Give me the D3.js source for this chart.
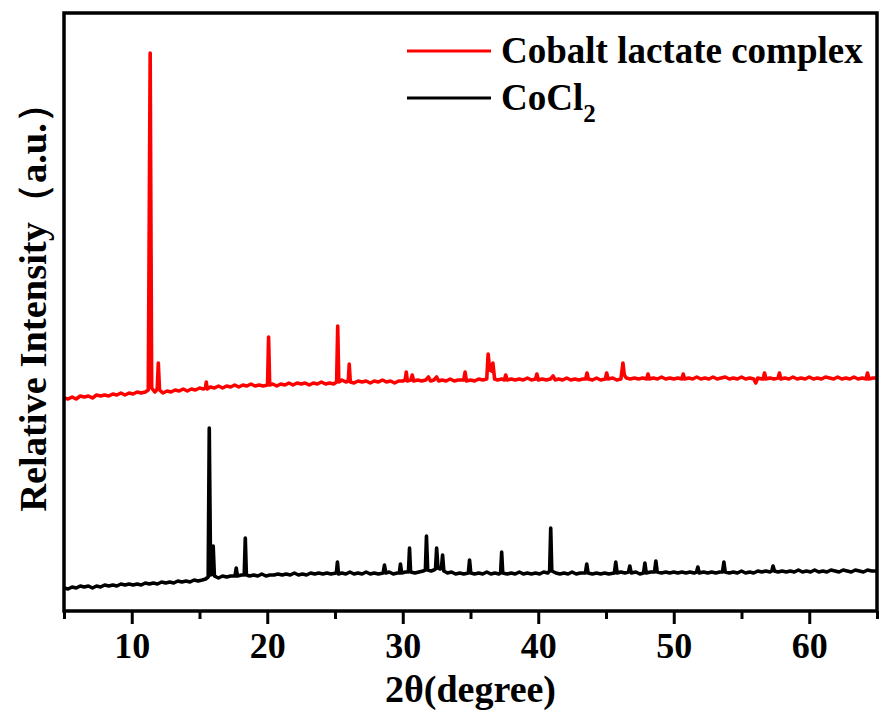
<!DOCTYPE html>
<html>
<head>
<meta charset="utf-8">
<script src="https://cdn.jsdelivr.net/npm/d3@7"></script>
<style>
  html, body { margin: 0; padding: 0; background: #fff; }
  svg { display: block; }
  text { font-family: "Liberation Serif", "Times New Roman", serif; font-weight: bold; fill: #000; }
</style>
</head>
<body>
<svg id="chart" width="881" height="718"></svg>
<script>
// XRD patterns: [2θ (degree), relative intensity (a.u.)], red trace stacked above black
const cobaltLactate = [
  [5.0,213],[5.3,212],[5.6,214],[5.9,212],[6.2,215],[6.5,214],[6.8,215],[7.1,213],[7.4,216],[7.7,215],
  [8.0,216],[8.3,215],[8.6,217],[8.9,216],[9.2,218],[9.5,216],[9.8,218],[10.1,217],[10.4,219],[10.7,218],
  [11.0,219],[11.22,221],[11.36,558],[11.47,223],[11.7,219],[11.88,222],[11.96,248],[12.05,221],[12.3,218],[12.6,220],
  [12.9,219],[13.2,221],[13.5,220],[13.8,222],[14.1,220],[14.4,222],[14.7,221],[15.0,223],[15.3,222],[15.44,223],
  [15.5,229],[15.57,222],[15.8,224],[16.1,223],[16.4,225],[16.7,223],[17.0,225],[17.3,224],[17.6,226],[17.9,224],
  [18.2,226],[18.5,225],[18.8,227],[19.1,225],[19.4,226],[19.7,225],[20.02,226],[20.1,274],[20.18,226],[20.4,227],
  [20.7,225],[21.0,227],[21.3,226],[21.6,228],[21.9,226],[22.2,228],[22.5,227],[22.8,228],[23.1,226],[23.4,228],
  [23.7,227],[24.0,229],[24.3,227],[24.6,228],[24.9,227],[25.12,229],[25.2,285],[25.28,229],[25.5,231],[25.8,229],
  [25.98,230],[26.05,247],[26.13,229],[26.4,228],[26.7,230],[27.0,229],[27.3,230],[27.6,228],[27.9,230],[28.2,229],
  [28.5,231],[28.8,229],[29.1,230],[29.4,228],[29.7,230],[30.0,230],[30.18,231],[30.26,239],[30.34,230],[30.6,231],
  [30.7,236],[30.8,230],[31.1,231],[31.4,230],[31.7,231],[31.9,234],[32.05,230],[32.3,231],[32.5,234],[32.65,230],
  [32.9,231],[33.2,230],[33.5,232],[33.8,230],[34.1,231],[34.5,231],[34.6,239],[34.7,230],[35.0,231],[35.3,230],
  [35.6,232],[35.9,231],[36.2,232],[36.3,257],[36.42,241],[36.55,240],[36.65,248],[36.78,232],[37.0,231],[37.3,232],
  [37.5,231],[37.6,236],[37.7,231],[38.0,232],[38.3,231],[38.6,232],[38.9,231],[39.2,233],[39.5,231],[39.8,232],
  [39.9,237],[40.0,231],[40.3,232],[40.6,231],[40.9,232],[41.1,235],[41.25,231],[41.5,232],[41.8,231],[42.1,233],
  [42.4,231],[42.7,232],[43.0,231],[43.3,232],[43.5,232],[43.6,238],[43.7,232],[44.0,231],[44.3,233],[44.6,231],
  [44.95,232],[45.05,238],[45.15,232],[45.5,233],[45.8,231],[46.1,232],[46.25,248],[46.35,236],[46.5,233],[46.8,232],
  [47.1,233],[47.4,232],[47.7,233],[48.0,232],[48.1,237],[48.2,232],[48.5,233],[48.8,232],[49.1,234],[49.4,232],
  [49.7,233],[50.0,232],[50.3,233],[50.6,232],[50.7,237],[50.8,232],[51.1,233],[51.4,232],[51.7,234],[52.0,232],
  [52.3,233],[52.6,232],[52.9,234],[53.2,232],[53.5,233],[53.8,234],[54.1,232],[54.4,233],[54.7,232],[55.0,234],
  [55.3,232],[55.6,233],[55.9,232],[56.05,228],[56.2,233],[56.5,232],[56.6,232],[56.7,238],[56.8,232],[57.1,233],
  [57.4,232],[57.7,233],[57.8,238],[57.9,232],[58.2,233],[58.5,232],[58.8,234],[59.1,232],[59.4,233],[59.7,232],
  [60.0,234],[60.3,232],[60.6,233],[60.9,232],[61.2,234],[61.5,233],[61.8,232],[62.1,234],[62.4,232],[62.7,233],
  [63.0,232],[63.3,234],[63.6,232],[63.9,233],[64.2,232],[64.3,238],[64.4,232],[64.7,233],[65.0,233]
];

const cobaltChloride = [
  [5.0,23],[5.3,22],[5.6,24],[5.9,23],[6.2,25],[6.5,24],[6.8,25],[7.1,23],[7.4,25],[7.7,24],
  [8.0,26],[8.3,25],[8.6,26],[8.9,25],[9.2,27],[9.5,26],[9.8,27],[10.1,26],[10.4,27],[10.7,26],
  [11.0,28],[11.3,27],[11.6,28],[11.9,27],[12.2,29],[12.5,28],[12.8,29],[13.1,28],[13.4,30],[13.7,29],
  [14.0,30],[14.3,29],[14.6,31],[14.9,30],[15.2,31],[15.45,32],[15.64,34],[15.72,183],[15.82,36],[15.94,37],
  [16.01,65],[16.1,35],[16.4,33],[16.7,35],[17.0,34],[17.3,35],[17.62,35],[17.71,43],[17.8,35],[18.1,36],
  [18.3,36],[18.38,73],[18.46,36],[18.7,35],[19.0,36],[19.3,35],[19.6,37],[19.9,35],[20.2,36],[20.5,36],
  [20.8,37],[21.1,36],[21.4,37],[21.7,36],[22.0,38],[22.3,36],[22.6,37],[22.9,36],[23.2,38],[23.5,37],
  [23.8,38],[24.1,37],[24.4,38],[24.7,37],[25.1,38],[25.18,49],[25.26,37],[25.5,38],[25.8,37],[26.1,39],
  [26.4,37],[26.7,38],[27.0,37],[27.3,39],[27.6,37],[27.9,38],[28.2,37],[28.55,38],[28.65,46],[28.75,38],
  [29.0,39],[29.3,37],[29.6,38],[29.75,38],[29.83,47],[29.92,38],[30.2,39],[30.42,39],[30.5,63],[30.58,39],
  [30.9,38],[31.2,39],[31.5,40],[31.67,41],[31.75,75],[31.84,41],[32.1,40],[32.3,41],[32.42,42],[32.5,63],
  [32.6,43],[32.78,42],[32.86,44],[32.94,56],[33.03,40],[33.3,38],[33.6,39],[33.9,37],[34.2,38],[34.5,37],
  [34.84,38],[34.93,51],[35.02,38],[35.3,37],[35.6,38],[35.9,37],[36.2,39],[36.5,37],[36.8,38],[37.1,37],
  [37.22,38],[37.3,59],[37.38,38],[37.7,37],[38.0,38],[38.3,37],[38.6,39],[38.9,37],[39.2,38],[39.5,37],
  [39.8,38],[40.1,37],[40.4,39],[40.7,38],[40.84,40],[40.92,83],[41.0,40],[41.3,38],[41.6,37],[41.9,38],
  [42.2,37],[42.5,39],[42.8,37],[43.1,38],[43.48,38],[43.58,47],[43.68,38],[44.0,37],[44.3,38],[44.6,37],
  [44.9,38],[45.2,37],[45.62,38],[45.72,49],[45.82,38],[46.1,39],[46.4,38],[46.66,39],[46.76,45],[46.86,38],
  [47.2,39],[47.5,37],[47.77,38],[47.87,48],[47.97,38],[48.3,39],[48.58,39],[48.68,50],[48.78,39],[49.1,38],
  [49.4,39],[49.7,38],[50.0,39],[50.3,38],[50.6,39],[50.9,38],[51.2,39],[51.5,38],[51.68,39],[51.78,44],
  [51.88,38],[52.2,39],[52.5,38],[52.8,39],[53.1,38],[53.4,39],[53.6,39],[53.7,49],[53.8,39],[54.1,38],
  [54.4,39],[54.7,38],[55.0,40],[55.3,38],[55.6,39],[55.9,38],[56.2,40],[56.5,39],[56.8,40],[57.1,39],
  [57.23,40],[57.33,45],[57.43,40],[57.7,39],[58.0,40],[58.3,39],[58.6,40],[58.9,39],[59.2,41],[59.5,39],
  [59.8,40],[60.1,39],[60.4,41],[60.7,39],[61.0,40],[61.3,39],[61.6,41],[61.9,40],[62.2,39],[62.5,41],
  [62.8,40],[63.1,39],[63.4,41],[63.7,40],[64.0,39],[64.3,41],[64.6,40],[65.0,40]
];

const majorTicks = [10, 20, 30, 40, 50, 60];
const minorTicks = [5, 15, 25, 35, 45, 55, 65];
const seriesNames = ["Cobalt lactate complex", "CoCl"];
const seriesColors = ["#ff0000", "#000000"];

const svg = d3.select("#chart");
const margin = { left: 64, top: 13, right: 4, bottom: 107 };
const W = 881, H = 718;
const plotW = W - margin.left - margin.right;
const plotH = H - margin.top - margin.bottom;

const x = d3.scaleLinear().domain([5, 65]).range([margin.left, margin.left + plotW]);
const y = d3.scaleLinear().domain([0, 598]).range([margin.top + plotH, margin.top]);

const line = d3.line()
  .x(d => x(d[0]))
  .y(d => y(d[1]));

// traces
svg.append("path")
  .datum(cobaltChloride)
  .attr("d", line)
  .attr("fill", "none")
  .attr("stroke", seriesColors[1])
  .attr("stroke-width", 3.6)
  .attr("stroke-linejoin", "round");

svg.append("path")
  .datum(cobaltLactate)
  .attr("d", line)
  .attr("fill", "none")
  .attr("stroke", seriesColors[0])
  .attr("stroke-width", 3.6)
  .attr("stroke-linejoin", "round");

// x axis: major ticks with labels, minor ticks without
const bottomY = margin.top + plotH;
const majorAxis = d3.axisBottom(x).tickValues(majorTicks).tickSize(13).tickPadding(8).tickFormat(d3.format("d"));
const minorAxis = d3.axisBottom(x).tickValues(minorTicks).tickSize(8).tickFormat("");

const gMajor = svg.append("g").attr("transform", `translate(0,${bottomY})`).call(majorAxis);
const gMinor = svg.append("g").attr("transform", `translate(0,${bottomY})`).call(minorAxis);
[gMajor, gMinor].forEach(g => {
  g.select(".domain").remove();
  g.selectAll(".tick line").attr("stroke", "#000").attr("stroke-width", 3);
});
gMajor.selectAll(".tick text")
  .attr("font-size", 36)
  .attr("font-family", "Liberation Serif, Times New Roman, serif")
  .attr("font-weight", "bold")
  .attr("fill", "#000");

// frame
svg.append("rect")
  .attr("x", margin.left).attr("y", margin.top)
  .attr("width", plotW).attr("height", plotH)
  .attr("fill", "none").attr("stroke", "#000").attr("stroke-width", 3.5);

// axis titles
svg.append("text")
  .attr("x", x(35)).attr("y", 702)
  .attr("text-anchor", "middle")
  .attr("font-size", 38)
  .text("2θ(degree)");

svg.append("text")
  .attr("transform", `translate(46,${298}) rotate(-90)`)
  .attr("text-anchor", "middle")
  .attr("font-size", 38.5)
  .text("Relative Intensity（a.u.）");

// legend
const legend = svg.append("g");
const legendRows = [{ y: 51, base: 63 }, { y: 98, base: 110 }];
legendRows.forEach((r, i) => {
  legend.append("line")
    .attr("x1", 407).attr("x2", 491)
    .attr("y1", r.y).attr("y2", r.y)
    .attr("stroke", seriesColors[i]).attr("stroke-width", 3);
});
legend.append("text").attr("x", 501).attr("y", legendRows[0].base).attr("font-size", 37).text(seriesNames[0]);
const t2 = legend.append("text").attr("x", 501).attr("y", legendRows[1].base).attr("font-size", 37);
t2.append("tspan").text(seriesNames[1]);
t2.append("tspan").attr("font-size", 25).attr("dy", 12).text("2");
</script>
</body>
</html>
